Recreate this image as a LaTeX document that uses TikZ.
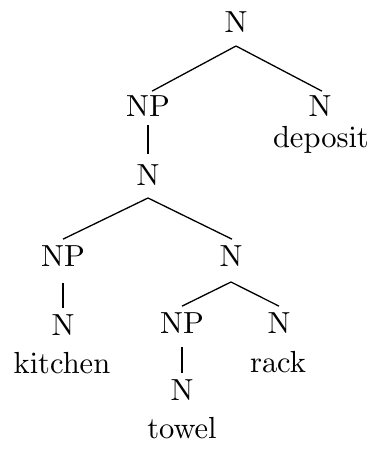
\documentclass[tikz,border=0pt]{standalone}
\font\treefont=cmr10 at 30.5pt
\begin{document}
\begin{tikzpicture}[x=1pt,y=-1pt,
  lab/.style={anchor=base,inner sep=0pt,outer sep=0pt,font=\treefont},
  edge/.style={line width=1.3pt}]
\useasboundingbox (0,0) rectangle (375,449);
\node[lab] (n0) at (236,33) {N};
\node[lab] (np1) at (148,117) {NP};
\node[lab] (n1) at (320,117) {N};
\node[lab] (w1) at (321,148) {deposit};
\node[lab] (n2) at (148,185) {N};
\node[lab] (np2) at (63,266) {NP};
\node[lab] (n3) at (231,266) {N};
\node[lab] (n4) at (63,335) {N};
\node[lab] (w2) at (62,373) {kitchen};
\node[lab] (np3) at (182,333) {NP};
\node[lab] (n5) at (279,333) {N};
\node[lab] (w3) at (278,372) {rack};
\node[lab] (n6) at (182,400) {N};
\node[lab] (w4) at (182,438) {towel};
\draw[edge] ([yshift=-13pt]n0.south) -- ([xshift=4pt,yshift=5pt]np1.north);
\draw[edge] ([yshift=-13pt]n0.south) -- ([xshift=2pt,yshift=5pt]n1.north);
\draw[edge] ([yshift=-8pt]np1.south) -- ([yshift=10pt]n2.north);
\draw[edge] ([yshift=-13pt]n2.south) -- ([yshift=6pt]np2.north);
\draw[edge] ([yshift=-13pt]n2.south) -- ([xshift=1pt,yshift=6pt]n3.north);
\draw[edge] ([yshift=-17pt]np2.south) -- ([yshift=6pt]n4.north);
\draw[edge] ([yshift=-16pt]n3.south) -- ([yshift=6pt]np3.north);
\draw[edge] ([yshift=-16pt]n3.south) -- ([yshift=6pt]n5.north);
\draw[edge] ([yshift=-14pt]np3.south) -- ([yshift=6pt]n6.north);
\end{tikzpicture}
\end{document}
